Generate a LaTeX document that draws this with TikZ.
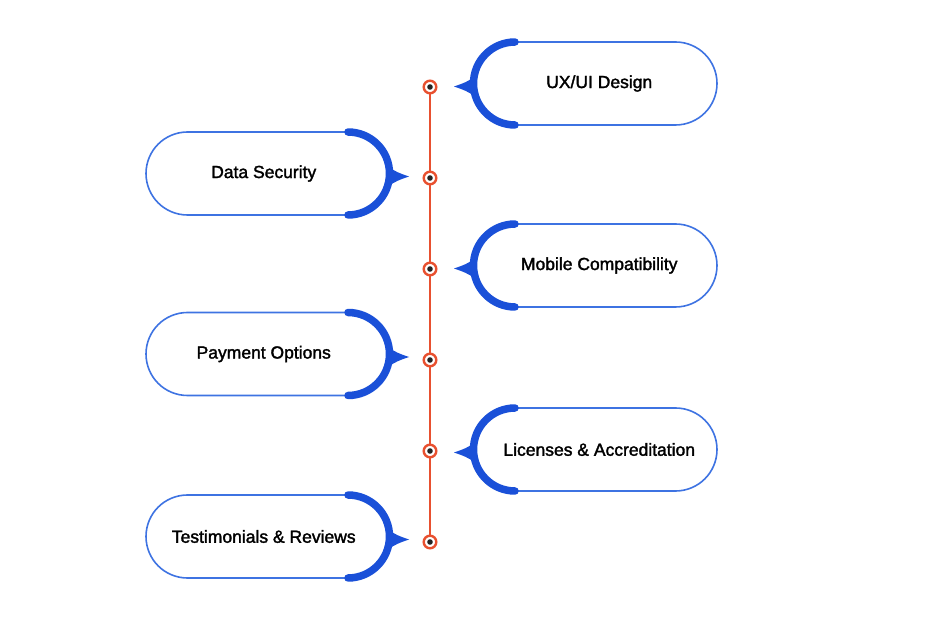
\documentclass[tikz,border=0pt]{standalone}
\usepackage{fontspec}
\setmainfont{Liberation Sans}
\newfontfamily\pillfont[FakeBold=1.8]{Liberation Sans}
\usepackage{tikz}
\usetikzlibrary{calc,positioning}
\definecolor{thinblue}{HTML}{3E73E2}
\definecolor{thickblue}{HTML}{1A50D8}
\definecolor{linered}{HTML}{E8502F}
\definecolor{dotblack}{HTML}{222222}

\begin{document}
\begin{tikzpicture}[x=1pt,y=1pt,
    pill/.style={draw=thinblue, line width=1.6pt, fill=white, rounded corners=41.5pt,
                 minimum width=243.5pt, minimum height=83pt, inner sep=0pt, outer sep=0pt,
                 font=\pillfont\fontsize{17.5}{20}\selectfont},
    pillR/.style={pill, execute at begin node=\hspace{8pt}},
    pillL/.style={pill, execute at end node=\hspace{8pt}},
    thickarc/.style={draw=thickblue, line width=7.5pt, line cap=round},
    redline/.style={draw=linered, line width=2.6pt},
    dot/.style={circle, draw=linered, line width=2.4pt, fill=white, minimum size=12.6pt, inner sep=0pt,
                path picture={\fill[dotblack] (path picture bounding box.center) circle (2.8pt);}}]
                \useasboundingbox (0,0) rectangle (930,-620);
                \node[pillR] (p1) at (595.25,-83.5)  {UX/UI Design};
                \node[pillL] (p2) at (267.75,-173.5) {Data Security};
                \node[pillR] (p3) at (595.25,-265.5) {Mobile Compatibility};
                \node[pillL] (p4) at (267.75,-354)   {Payment Options};
                \node[pillR] (p5) at (595.25,-449.5) {Licenses \& Accreditation};
                \node[pillL] (p6) at (267.75,-536.5) {Testimonials \& Reviews};
                \foreach \p in {1,3,5}{
                    \draw[thickarc] ($(p\p.north west)+(41.5,0)$) arc[start angle=90, end angle=270, radius=41.5pt];
                    \fill[thickblue, shift={(p\p.west)}] (2,7) .. controls (-8,1) .. (-19.5,-3) .. controls (-8,-7) .. (2,-13) -- cycle;
                }
                \foreach \p in {2,4,6}{
                    \draw[thickarc] ($(p\p.north east)+(-41.5,0)$) arc[start angle=90, end angle=-90, radius=41.5pt];
                    \fill[thickblue, shift={(p\p.east)}] (-2,7) .. controls (8,1) .. (19.5,-3) .. controls (8,-7) .. (-2,-13) -- cycle;
                }
                \foreach \i/\y in {1/87,2/178,3/269,4/360,5/451,6/542}
                    \coordinate (c\i) at (430,-\y);
                \draw[redline] (c1) -- (c6);
                \foreach \i in {1,...,6}
                    \node[dot] (d\i) at (c\i) {};
            \end{tikzpicture}
\end{document}
